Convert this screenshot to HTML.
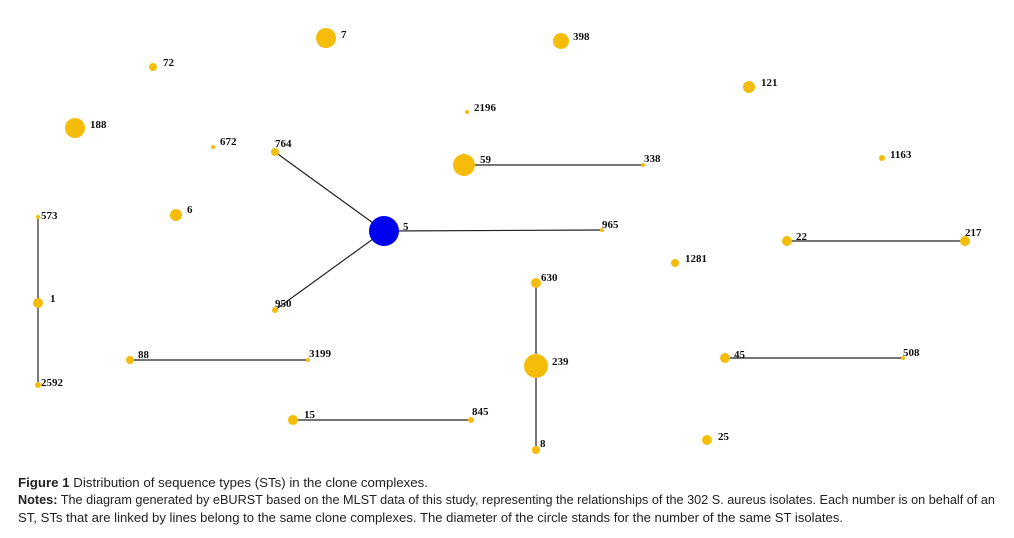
<!DOCTYPE html>
<html><head><meta charset="utf-8"><style>
html,body{margin:0;padding:0;background:#fff;width:1014px;height:538px;overflow:hidden}
svg text.l{font-family:"Liberation Serif",serif;font-weight:bold;font-size:11px;fill:#111}
svg text.c{font-family:"Liberation Sans",sans-serif;font-size:12.5px;fill:#222}
</style></head><body>
<svg width="1014" height="538" viewBox="0 0 1014 538" xmlns="http://www.w3.org/2000/svg">
<g stroke="#222" stroke-width="1.2">
<line x1="275" y1="152" x2="384" y2="231"/>
<line x1="275" y1="310" x2="384" y2="231"/>
<line x1="384" y1="231" x2="602" y2="230"/>
<line x1="464" y1="165" x2="643" y2="165"/>
<line x1="787" y1="241" x2="965" y2="241"/>
<line x1="38" y1="217" x2="38" y2="385"/>
<line x1="536" y1="283" x2="536" y2="450"/>
<line x1="130" y1="360" x2="308" y2="360"/>
<line x1="725" y1="358" x2="903" y2="358"/>
<line x1="293" y1="420" x2="471" y2="420"/>
</g>
<g fill="#f5bd0a">
<circle cx="326" cy="38" r="10"/><circle cx="561" cy="41" r="8"/><circle cx="153" cy="67" r="4"/>
<circle cx="749" cy="87" r="6"/><circle cx="467" cy="112" r="2"/><circle cx="75" cy="128" r="10"/>
<circle cx="213" cy="147" r="2"/><circle cx="275" cy="152" r="4"/><circle cx="464" cy="165" r="11"/>
<circle cx="643" cy="165" r="2"/><circle cx="882" cy="158" r="3"/><circle cx="38" cy="217" r="2"/>
<circle cx="176" cy="215" r="6"/><circle cx="602" cy="230" r="2"/><circle cx="787" cy="241" r="5"/>
<circle cx="965" cy="241" r="5"/><circle cx="675" cy="263" r="4"/><circle cx="536" cy="283" r="5"/>
<circle cx="38" cy="303" r="5"/><circle cx="275" cy="310" r="3"/><circle cx="130" cy="360" r="4"/>
<circle cx="308" cy="360" r="2"/><circle cx="536" cy="366" r="12"/><circle cx="725" cy="358" r="5"/>
<circle cx="903" cy="358" r="2"/><circle cx="38" cy="385" r="3"/><circle cx="293" cy="420" r="5"/>
<circle cx="471" cy="420" r="3"/><circle cx="707" cy="440" r="5"/><circle cx="536" cy="450" r="4"/>
</g>
<circle cx="384" cy="231" r="15" fill="#0000f0"/>
<g>
<text class="l" x="341" y="38">7</text><text class="l" x="573" y="40">398</text><text class="l" x="163" y="66">72</text>
<text class="l" x="761" y="86">121</text><text class="l" x="474" y="111">2196</text><text class="l" x="90" y="128">188</text>
<text class="l" x="220" y="145">672</text><text class="l" x="275" y="147">764</text><text class="l" x="480" y="163">59</text>
<text class="l" x="644" y="162">338</text><text class="l" x="890" y="158">1163</text><text class="l" x="41" y="219">573</text>
<text class="l" x="187" y="213">6</text><text class="l" x="403" y="230">5</text><text class="l" x="602" y="228">965</text>
<text class="l" x="796" y="240">22</text><text class="l" x="965" y="236">217</text><text class="l" x="685" y="262">1281</text>
<text class="l" x="541" y="281">630</text><text class="l" x="50" y="302">1</text><text class="l" x="275" y="307">950</text>
<text class="l" x="138" y="358">88</text><text class="l" x="309" y="357">3199</text><text class="l" x="552" y="365">239</text>
<text class="l" x="734" y="358">45</text><text class="l" x="903" y="356">508</text><text class="l" x="41" y="386">2592</text>
<text class="l" x="304" y="418">15</text><text class="l" x="472" y="415">845</text><text class="l" x="718" y="440">25</text>
<text class="l" x="540" y="447">8</text>
</g>
<text class="c" x="18" y="487" textLength="410" lengthAdjust="spacingAndGlyphs"><tspan font-weight="bold">Figure 1</tspan> Distribution of sequence types (STs) in the clone complexes.</text>
<text class="c" x="18" y="504" textLength="977" lengthAdjust="spacingAndGlyphs"><tspan font-weight="bold">Notes:</tspan> The diagram generated by eBURST based on the MLST data of this study, representing the relationships of the 302 S. aureus isolates. Each number is on behalf of an</text>
<text class="c" x="18" y="522" textLength="825" lengthAdjust="spacingAndGlyphs">ST, STs that are linked by lines belong to the same clone complexes. The diameter of the circle stands for the number of the same ST isolates.</text>
</svg>
</body></html>
